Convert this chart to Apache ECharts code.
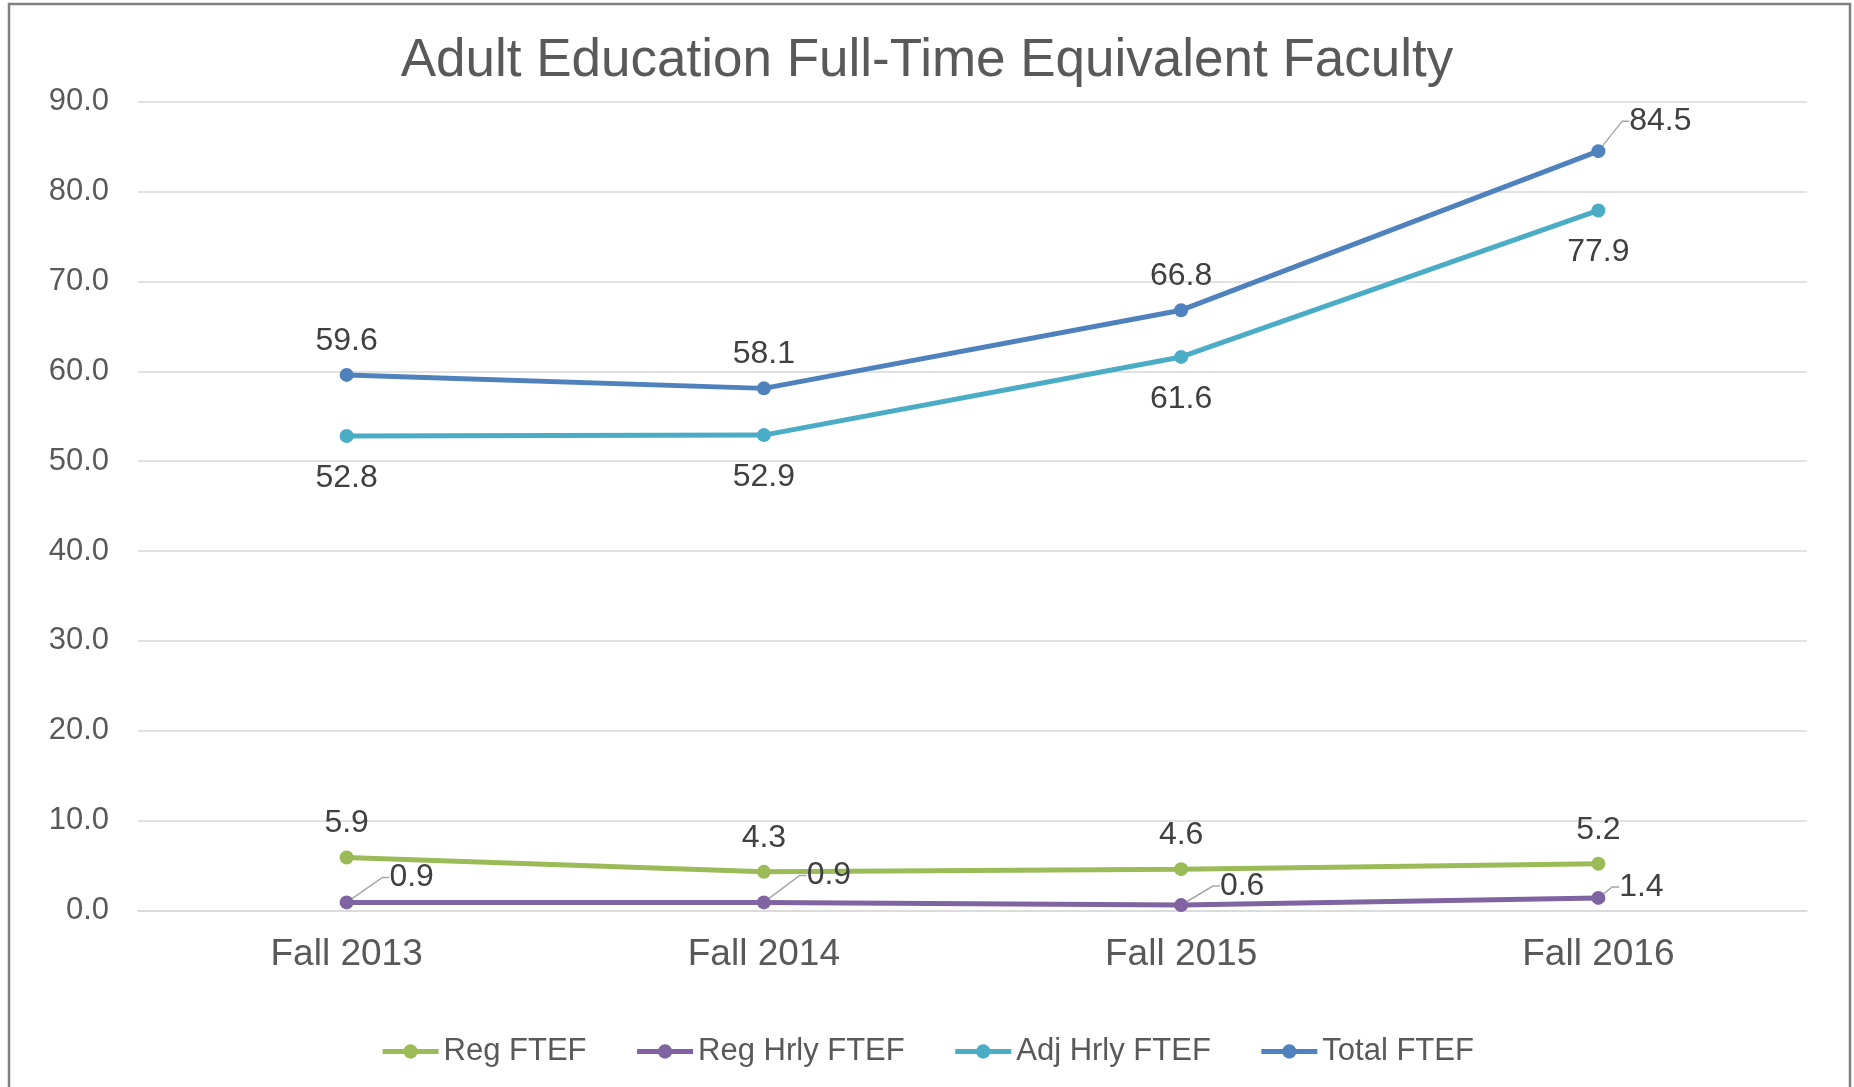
<!DOCTYPE html>
<html>
<head>
<meta charset="utf-8">
<script src="https://cdn.jsdelivr.net/npm/echarts@6/dist/echarts.min.js"></script>
<style>
html,body{margin:0;padding:0;background:#fff;}
#chart{width:1854px;height:1087px;}
</style>
</head>
<body>
<div id="chart"></div>
<script>
const titleText = 'Adult Education Full-Time Equivalent Faculty';
const categories = ['Fall 2013', 'Fall 2014', 'Fall 2015', 'Fall 2016'];
const regFTEF = [5.9, 4.3, 4.6, 5.2];
const regHrlyFTEF = [0.9, 0.9, 0.6, 1.4];
const adjHrlyFTEF = [52.8, 52.9, 61.6, 77.9];
const totalFTEF = [59.6, 58.1, 66.8, 84.5];
const yTicks = { min: 0, max: 90, interval: 10 };

// label displacement (layout only)
const hrlyLabelShift = [[65, -25], [65, -27], [61, -19], [43, -11]];
const totalLabelShift = [null, null, null, [62, -30]];

const FONT = 'Liberation Sans, Arial, sans-serif';
const colors = { reg: '#9BBB59', hrly: '#8064A2', adj: '#4BACC6', total: '#4F81BD' };
const leader = { show: true, length2: 7, lineStyle: { color: '#A6A6A6', width: 1.5 } };

const chart = echarts.init(document.getElementById('chart'), null, { renderer: 'canvas' });

function baseSeries(name, data, color) {
  return {
    name: name,
    type: 'line',
    data: data,
    symbol: 'circle',
    symbolSize: 14,
    color: color,
    lineStyle: { width: 5, color: color },
    itemStyle: { color: color },
    animation: false,
    label: {
      show: true,
      fontFamily: FONT,
      fontSize: 32,
      color: '#404040',
      formatter: p => Number(p.value).toFixed(1)
    }
  };
}

const sReg = baseSeries('Reg FTEF', regFTEF, colors.reg);
sReg.label.position = 'top';
sReg.label.distance = 11;

const sHrly = baseSeries('Reg Hrly FTEF', regHrlyFTEF, colors.hrly);
sHrly.label.position = 'inside';
sHrly.labelLayout = p => ({ dx: hrlyLabelShift[p.dataIndex][0], dy: hrlyLabelShift[p.dataIndex][1] });
sHrly.labelLine = leader;

const sAdj = baseSeries('Adj Hrly FTEF', adjHrlyFTEF, colors.adj);
sAdj.label.position = 'bottom';
sAdj.label.distance = 19;

const sTotal = baseSeries('Total FTEF', totalFTEF.map((v, i) => (
  totalLabelShift[i] ? { value: v, labelLine: leader, label: { position: 'inside' } } : { value: v }
)), colors.total);
sTotal.label.position = 'top';
sTotal.label.distance = 11;
sTotal.labelLine = { show: false };
sTotal.labelLayout = p => {
  const s = totalLabelShift[p.dataIndex];
  return s ? { dx: s[0], dy: s[1] } : {};
};

const option = {
  backgroundColor: '#fff',
  animation: false,
  textStyle: { fontFamily: FONT },
  title: {
    text: titleText,
    left: 'center',
    top: 35,
    padding: 0,
    textStyle: { fontFamily: FONT, fontSize: 53, fontWeight: 'normal', color: '#595959' }
  },
  legend: {
    bottom: 20,
    left: 'center',
    padding: 0,
    itemWidth: 56,
    itemHeight: 18,
    itemGap: 48,
    lineStyle: { width: 5 },
    textStyle: { fontFamily: FONT, fontSize: 31, color: '#595959' },
    data: ['Reg FTEF', 'Reg Hrly FTEF', 'Adj Hrly FTEF', 'Total FTEF']
  },
  grid: { left: 138, right: 47, top: 101.7, bottom: 176.5, containLabel: false },
  xAxis: {
    type: 'category',
    data: categories,
    boundaryGap: true,
    axisLine: { show: true, lineStyle: { color: '#D9D9D9', width: 1.5 } },
    axisTick: { show: false },
    axisLabel: { fontFamily: FONT, fontSize: 37, color: '#595959', margin: 26 }
  },
  yAxis: {
    type: 'value',
    min: yTicks.min,
    max: yTicks.max,
    interval: yTicks.interval,
    axisLine: { show: false },
    axisTick: { show: false },
    splitLine: { lineStyle: { color: '#D9D9D9', width: 1.5 } },
    axisLabel: { fontFamily: FONT, fontSize: 31, color: '#595959', margin: 29, formatter: v => v.toFixed(1) }
  },
  graphic: [{
    type: 'rect',
    shape: { x: 9, y: 4, width: 1841, height: 1200 },
    style: { fill: 'none', stroke: '#808080', lineWidth: 2.5 },
    silent: true,
    z: -1
  }],
  series: [sReg, sHrly, sAdj, sTotal]
};

chart.setOption(option);
</script>
</body>
</html>
